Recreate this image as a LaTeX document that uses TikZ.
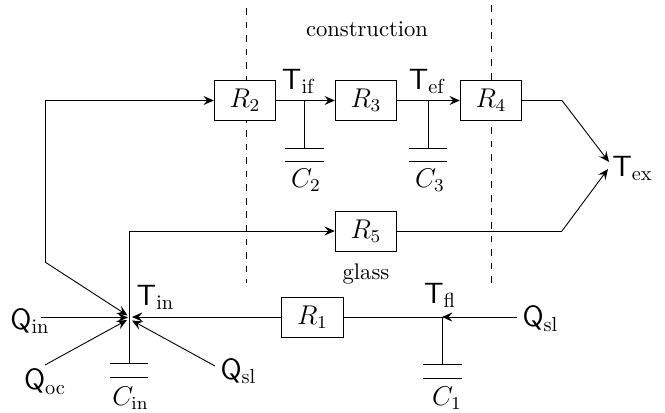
\documentclass[tikz,border=0pt]{standalone}
\usetikzlibrary{arrows.meta}
\newcommand{\qty}[2]{\scalebox{.9}{$\mathsf{#1}_{\mathrm{#2}}$}}
\tikzset{
  res/.style={draw,fill=white,inner sep=0pt,minimum width=27.2pt,minimum height=17.7pt,font=\large},
  lab/.style={inner sep=0pt,font=\large},
  var/.style={inner sep=0pt,font=\Large},
  txt/.style={inner sep=0pt},
  wire/.style={draw,line width=.4pt},
  arr/.style={wire,-{Stealth[length=4.6pt,width=4pt,inset=1.7pt]}},
  sep/.style={draw,dashed,line width=.4pt},
  plate/.style={draw,line width=.4pt}
}
\begin{document}
\begin{tikzpicture}[x=.4425pt,y=-.4425pt]
\useasboundingbox (0,0) rectangle (665,413);
% separators
\coordinate (d1a) at (246.5,8);  \coordinate (d1b) at (246.5,283);
\coordinate (d2a) at (491,5);    \coordinate (d2b) at (491,285);
\draw[sep] (d1a) -- (d1b);
\draw[sep] (d2a) -- (d2b);
% resistors
\node[res] (R2) at (245,100.5) {$R_2$};
\node[res] (R3) at (366,100.5) {$R_3$};
\node[res] (R4) at (491,100.5) {$R_4$};
\node[res] (R5) at (366,231) {$R_5$};
\node[res] (R1) at (312.5,317) {$R_1$};
% junction points
\coordinate (Jtop) at (129.5,231);
\coordinate (Jcin) at (129.5,363);
\coordinate (Jfl) at (442,317);
\coordinate (Jc1) at (442,364);
\coordinate (Jif) at (304.5,100.5);
\coordinate (Jc2) at (304.5,148);
\coordinate (Jef) at (428,100.5);
\coordinate (Jc3) at (428,148);
\coordinate (Lu) at (45,100.5);
\coordinate (Ld) at (45,262);
\coordinate (Ex1) at (562,100.5);
\coordinate (Ex2) at (562,231);
\coordinate (TipA) at (127.5,315.5);
\coordinate (TipQin) at (128,317.5);
\coordinate (TipQoc) at (127,320);
\coordinate (TipQsl) at (132,320.5);
\coordinate (TipR1) at (132,317);
\coordinate (TipEx1) at (609,162);
\coordinate (TipEx2) at (608,169);
\coordinate (SQin) at (41,317.5);
\coordinate (SQoc) at (45,365);
\coordinate (SQsl) at (215,366);
\coordinate (SQsr) at (517,317);
% labels
\node[txt] (con) at (367,29) {construction};
\node[txt] (gla) at (366,274) {glass};
\node[var] (Tif) at (299,81.5) {\qty{T}{if}};
\node[var] (Tef) at (427.5,81.5) {\qty{T}{ef}};
\node[var] (Tex) at (632.5,168.5) {\qty{T}{ex}};
\node[var] (Tin) at (155.5,297.5) {\qty{T}{in}};
\node[var] (Tfl) at (440,295.5) {\qty{T}{fl}};
\node[var] (Qin) at (30,321.5) {\qty{Q}{in}};
\node[var] (Qoc) at (45,382) {\qty{Q}{oc}};
\node[var] (Qsl) at (238.5,371.5) {\qty{Q}{sl}};
\node[var] (Qsr) at (540.5,319) {\qty{Q}{sl}};
\node[lab] (C2) at (306,180) {$C_2$};
\node[lab] (C3) at (430,180) {$C_3$};
\node[lab] (Cin) at (130.5,398) {$C_{\mathrm{in}}$};
\node[lab] (C1) at (447,398) {$C_1$};
% top branch
\draw[arr] (R2.east) -- (R3.west);
\draw[arr] (R3.east) -- (R4.west);
\draw[wire] (Jif) -- (Jc2);
\draw[wire] (Jef) -- (Jc3);
\draw[plate] (285,148) -- (324,148) (285,161) -- (324,161);
\draw[plate] (409,148) -- (447,148) (409,161) -- (447,161);
% long return to R2 and to the interior node
\draw[arr] (Ld) -- (TipA);
\draw[arr] (Ld) -- (Lu) -- (R2.west);
% R5 branch
\draw[arr] (Jcin) -- (Jtop) -- (R5.west);
\draw[wire] (R5.east) -- (Ex2);
\draw[arr] (Ex2) -- (TipEx2);
\draw[wire] (R4.east) -- (Ex1);
\draw[arr] (Ex1) -- (TipEx1);
% node Tin
\draw[arr] (SQin) -- (TipQin);
\draw[arr] (SQoc) -- (TipQoc);
\draw[arr] (SQsl) -- (TipQsl);
\draw[arr] (R1.west) -- (TipR1);
\draw[plate] (110,363) -- (148,363) (110,377) -- (148,377);
% floor
\draw[wire] (R1.east) -- (Jfl);
\draw[arr] (SQsr) -- (Jfl);
\draw[wire] (Jfl) -- (Jc1);
\draw[plate] (423,364) -- (462,364) (423,378) -- (462,378);
\end{tikzpicture}
\end{document}
